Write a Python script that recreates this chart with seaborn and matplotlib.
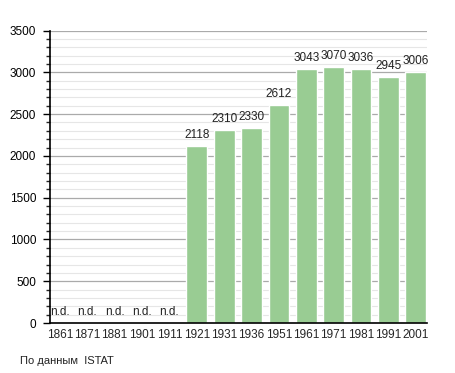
import numpy as np
import pandas as pd
import seaborn as sns
import matplotlib.pyplot as plt
from matplotlib.ticker import MultipleLocator

years = ['1861', '1871', '1881', '1901', '1911', '1921', '1931', '1936',
         '1951', '1961', '1971', '1981', '1991', '2001']
population = [np.nan, np.nan, np.nan, np.nan, np.nan, 2118, 2310, 2330,
              2612, 3043, 3070, 3036, 2945, 3006]
missing_label = 'n.d.'
source_note = 'По данным  ISTAT'

df = pd.DataFrame({'year': years, 'pop': population})
df['bar'] = df['pop'].fillna(0)

sns.set_style('white')
plt.rcParams['font.family'] = ['Liberation Sans', 'DejaVu Sans']

fig = plt.figure(figsize=(4.55, 3.73), dpi=100)
ax = fig.add_axes([0.11, 0.134, 0.828, 0.784])

sns.barplot(data=df, x='year', y='bar', color='#99cc93', saturation=1,
            width=0.76, ax=ax)

labels = [missing_label if np.isnan(v) else f'{int(v)}' for v in df['pop']]
for c in ax.containers:
    ax.bar_label(c, labels=labels, padding=3.5, fontsize=8.5, color='#222222')

ax.set_ylim(0, 3500)
ax.set_xlim(-0.36, 13.4)
ax.yaxis.set_major_locator(MultipleLocator(500))
ax.yaxis.set_minor_locator(MultipleLocator(100))
ax.grid(axis='y', which='major', color='#aaaaaa', linewidth=0.9)
ax.grid(axis='y', which='minor', color='#e6e6e6', linewidth=0.8)
ax.set_axisbelow(True)

for s in ['top', 'right']:
    ax.spines[s].set_visible(False)
ax.spines['left'].set_color('black')
ax.spines['bottom'].set_color('black')
ax.spines['left'].set_linewidth(1.2)
ax.spines['bottom'].set_linewidth(1.2)

ax.tick_params(axis='y', which='major', left=True, length=5, width=1,
               labelsize=8.5, pad=5, colors='black')
ax.tick_params(axis='y', which='minor', left=True, length=3, width=1)
ax.tick_params(axis='x', bottom=False, labelsize=8.5, pad=1)
ax.set_xlabel('')
ax.set_ylabel('')

fig.text(20 / 455, 1 - 361 / 373, source_note, fontsize=8, va='center',
         ha='left', color='#222222')

fig.savefig('out.png', dpi=100)
